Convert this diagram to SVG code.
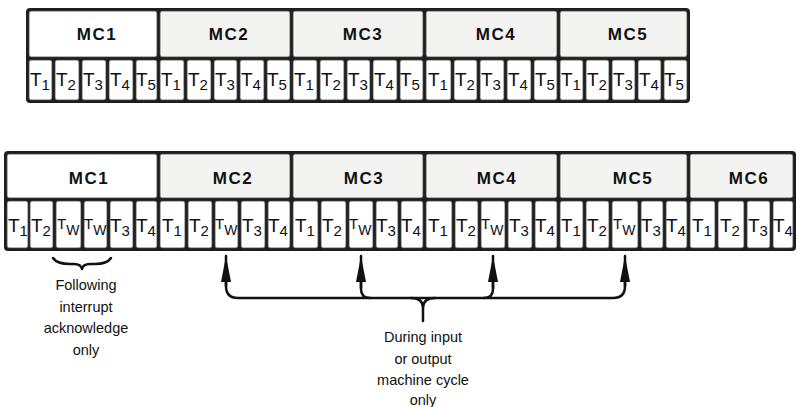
<svg xmlns="http://www.w3.org/2000/svg" width="797" height="407" viewBox="0 0 797 407">
<style>
.frame{fill:#1e1e1e}
.hdr{fill:#f3f3f1;stroke:#444;stroke-width:0.8}
.hw{fill:#ffffff;stroke:#444;stroke-width:0.8}
.cell{fill:#ffffff;stroke:#444;stroke-width:0.8}
.mc{font-family:"Liberation Sans",Arial,sans-serif;font-size:17px;font-weight:bold;letter-spacing:1.5px;fill:#111;text-anchor:middle}
.t{font-family:"Liberation Sans",Arial,sans-serif;font-size:19px;fill:#111}
.s{font-size:15px}
.tw{font-family:"Liberation Sans",Arial,sans-serif;font-size:15px;fill:#111}
.w{font-size:14px}
.lbl{font-family:"Liberation Sans",Arial,sans-serif;font-size:14.5px;fill:#111;text-anchor:middle}
.con{fill:none;stroke:#111;stroke-width:2.5;stroke-linecap:round;stroke-linejoin:round}
</style>
<defs>
<marker id="ah" viewBox="0 0 26 10" refX="26" refY="5" markerWidth="26" markerHeight="10" markerUnits="userSpaceOnUse" orient="auto">
<path d="M0,0 L26,5 L0,10 Z" fill="#111"/>
</marker>
</defs>

<g id="row1">
<rect class="frame" x="26" y="8" width="664" height="95" rx="4"/>
<g id="r1-mc1"><rect class="hw" x="29" y="11" width="128" height="46" rx="2"/><text class="mc" x="97" y="40">MC1</text></g>
<g id="r1-mc2"><rect class="hdr" x="160" y="11" width="130" height="46" rx="2"/><text class="mc" x="229" y="40">MC2</text></g>
<g id="r1-mc3"><rect class="hdr" x="293" y="11" width="130" height="46" rx="2"/><text class="mc" x="363" y="40">MC3</text></g>
<g id="r1-mc4"><rect class="hdr" x="426" y="11" width="131" height="46" rx="2"/><text class="mc" x="496" y="40">MC4</text></g>
<g id="r1-mc5"><rect class="hdr" x="560" y="11" width="127" height="46" rx="2"/><text class="mc" x="628" y="40">MC5</text></g>
<g id="r1-cells">
<rect class="cell" x="29" y="60" width="23" height="40" rx="2"/><text class="t" x="30" y="86">T<tspan class="s" dy="4">1</tspan></text>
<rect class="cell" x="55" y="60" width="24" height="40" rx="2"/><text class="t" x="56" y="86">T<tspan class="s" dy="4">2</tspan></text>
<rect class="cell" x="82" y="60" width="24" height="40" rx="2"/><text class="t" x="83" y="86">T<tspan class="s" dy="4">3</tspan></text>
<rect class="cell" x="109" y="60" width="24" height="40" rx="2"/><text class="t" x="110" y="86">T<tspan class="s" dy="4">4</tspan></text>
<rect class="cell" x="136" y="60" width="21" height="40" rx="2"/><text class="t" x="136" y="86">T<tspan class="s" dy="4">5</tspan></text>

<rect class="cell" x="160" y="60" width="24" height="40" rx="2"/><text class="t" x="161" y="86">T<tspan class="s" dy="4">1</tspan></text>
<rect class="cell" x="187" y="60" width="24" height="40" rx="2"/><text class="t" x="188" y="86">T<tspan class="s" dy="4">2</tspan></text>
<rect class="cell" x="214" y="60" width="23" height="40" rx="2"/><text class="t" x="215" y="86">T<tspan class="s" dy="4">3</tspan></text>
<rect class="cell" x="240" y="60" width="24" height="40" rx="2"/><text class="t" x="241" y="86">T<tspan class="s" dy="4">4</tspan></text>
<rect class="cell" x="267" y="60" width="23" height="40" rx="2"/><text class="t" x="267" y="86">T<tspan class="s" dy="4">5</tspan></text>

<rect class="cell" x="293" y="60" width="24" height="40" rx="2"/><text class="t" x="294" y="86">T<tspan class="s" dy="4">1</tspan></text>
<rect class="cell" x="320" y="60" width="24" height="40" rx="2"/><text class="t" x="321" y="86">T<tspan class="s" dy="4">2</tspan></text>
<rect class="cell" x="347" y="60" width="23" height="40" rx="2"/><text class="t" x="348" y="86">T<tspan class="s" dy="4">3</tspan></text>
<rect class="cell" x="373" y="60" width="24" height="40" rx="2"/><text class="t" x="374" y="86">T<tspan class="s" dy="4">4</tspan></text>
<rect class="cell" x="400" y="60" width="23" height="40" rx="2"/><text class="t" x="400" y="86">T<tspan class="s" dy="4">5</tspan></text>

<rect class="cell" x="426" y="60" width="25" height="40" rx="2"/><text class="t" x="428" y="86">T<tspan class="s" dy="4">1</tspan></text>
<rect class="cell" x="454" y="60" width="23" height="40" rx="2"/><text class="t" x="455" y="86">T<tspan class="s" dy="4">2</tspan></text>
<rect class="cell" x="480" y="60" width="24" height="40" rx="2"/><text class="t" x="481" y="86">T<tspan class="s" dy="4">3</tspan></text>
<rect class="cell" x="507" y="60" width="24" height="40" rx="2"/><text class="t" x="508" y="86">T<tspan class="s" dy="4">4</tspan></text>
<rect class="cell" x="534" y="60" width="23" height="40" rx="2"/><text class="t" x="535" y="86">T<tspan class="s" dy="4">5</tspan></text>

<rect class="cell" x="560" y="60" width="23" height="40" rx="2"/><text class="t" x="561" y="86">T<tspan class="s" dy="4">1</tspan></text>
<rect class="cell" x="586" y="60" width="23" height="40" rx="2"/><text class="t" x="587" y="86">T<tspan class="s" dy="4">2</tspan></text>
<rect class="cell" x="612" y="60" width="23" height="40" rx="2"/><text class="t" x="613" y="86">T<tspan class="s" dy="4">3</tspan></text>
<rect class="cell" x="638" y="60" width="23" height="40" rx="2"/><text class="t" x="639" y="86">T<tspan class="s" dy="4">4</tspan></text>
<rect class="cell" x="664" y="60" width="23" height="40" rx="2"/><text class="t" x="664" y="86">T<tspan class="s" dy="4">5</tspan></text>
</g>
</g>

<g id="row2">
<rect class="frame" x="4" y="151" width="792" height="100" rx="4"/>
<g id="r2-mc1"><rect class="hw" x="7" y="154" width="150" height="44" rx="2"/><text class="mc" x="89" y="184">MC1</text></g>
<g id="r2-mc2"><rect class="hdr" x="160" y="154" width="130" height="44" rx="2"/><text class="mc" x="233" y="184">MC2</text></g>
<g id="r2-mc3"><rect class="hdr" x="293" y="154" width="130" height="44" rx="2"/><text class="mc" x="364" y="184">MC3</text></g>
<g id="r2-mc4"><rect class="hdr" x="426" y="154" width="131" height="44" rx="2"/><text class="mc" x="497" y="184">MC4</text></g>
<g id="r2-mc5"><rect class="hdr" x="560" y="154" width="127" height="44" rx="2"/><text class="mc" x="633" y="184">MC5</text></g>
<g id="r2-mc6"><rect class="hdr" x="690" y="154" width="103" height="44" rx="2"/><text class="mc" x="749" y="184">MC6</text></g>
<g id="r2-cells">
<rect class="cell" x="7" y="201" width="21" height="47" rx="2"/><text class="t" x="8" y="232">T<tspan class="s" dy="4">1</tspan></text>
<rect class="cell" x="30" y="201" width="23" height="47" rx="2"/><text class="t" x="31" y="232">T<tspan class="s" dy="4">2</tspan></text>
<rect class="cell" x="56" y="201" width="25" height="47" rx="2"/><text class="tw" x="57" y="229">T<tspan class="w" dy="6">W</tspan></text>
<rect class="cell" x="84" y="201" width="23" height="47" rx="2"/><text class="tw" x="84" y="229">T<tspan class="w" dy="6">W</tspan></text>
<rect class="cell" x="110" y="201" width="23" height="47" rx="2"/><text class="t" x="110" y="232">T<tspan class="s" dy="4">3</tspan></text>
<rect class="cell" x="136" y="201" width="21" height="47" rx="2"/><text class="t" x="136" y="232">T<tspan class="s" dy="4">4</tspan></text>

<rect class="cell" x="160" y="201" width="25" height="47" rx="2"/><text class="t" x="162" y="232">T<tspan class="s" dy="4">1</tspan></text>
<rect class="cell" x="188" y="201" width="24" height="47" rx="2"/><text class="t" x="189" y="232">T<tspan class="s" dy="4">2</tspan></text>
<rect class="cell" x="215" y="201" width="23" height="47" rx="2"/><text class="tw" x="215" y="229">T<tspan class="w" dy="6">W</tspan></text>
<rect class="cell" x="241" y="201" width="24" height="47" rx="2"/><text class="t" x="242" y="232">T<tspan class="s" dy="4">3</tspan></text>
<rect class="cell" x="268" y="201" width="22" height="47" rx="2"/><text class="t" x="268" y="232">T<tspan class="s" dy="4">4</tspan></text>

<rect class="cell" x="293" y="201" width="25" height="47" rx="2"/><text class="t" x="295" y="232">T<tspan class="s" dy="4">1</tspan></text>
<rect class="cell" x="321" y="201" width="25" height="47" rx="2"/><text class="t" x="322" y="232">T<tspan class="s" dy="4">2</tspan></text>
<rect class="cell" x="349" y="201" width="24" height="47" rx="2"/><text class="tw" x="349" y="229">T<tspan class="w" dy="6">W</tspan></text>
<rect class="cell" x="376" y="201" width="22" height="47" rx="2"/><text class="t" x="376" y="232">T<tspan class="s" dy="4">3</tspan></text>
<rect class="cell" x="401" y="201" width="22" height="47" rx="2"/><text class="t" x="401" y="232">T<tspan class="s" dy="4">4</tspan></text>

<rect class="cell" x="426" y="201" width="26" height="47" rx="2"/><text class="t" x="428" y="232">T<tspan class="s" dy="4">1</tspan></text>
<rect class="cell" x="455" y="201" width="23" height="47" rx="2"/><text class="t" x="456" y="232">T<tspan class="s" dy="4">2</tspan></text>
<rect class="cell" x="481" y="201" width="24" height="47" rx="2"/><text class="tw" x="481" y="229">T<tspan class="w" dy="6">W</tspan></text>
<rect class="cell" x="508" y="201" width="24" height="47" rx="2"/><text class="t" x="509" y="232">T<tspan class="s" dy="4">3</tspan></text>
<rect class="cell" x="535" y="201" width="22" height="47" rx="2"/><text class="t" x="535" y="232">T<tspan class="s" dy="4">4</tspan></text>

<rect class="cell" x="560" y="201" width="23" height="47" rx="2"/><text class="t" x="561" y="232">T<tspan class="s" dy="4">1</tspan></text>
<rect class="cell" x="586" y="201" width="23" height="47" rx="2"/><text class="t" x="587" y="232">T<tspan class="s" dy="4">2</tspan></text>
<rect class="cell" x="612" y="201" width="26" height="47" rx="2"/><text class="tw" x="613" y="229">T<tspan class="w" dy="6">W</tspan></text>
<rect class="cell" x="641" y="201" width="22" height="47" rx="2"/><text class="t" x="641" y="232">T<tspan class="s" dy="4">3</tspan></text>
<rect class="cell" x="666" y="201" width="21" height="47" rx="2"/><text class="t" x="666" y="232">T<tspan class="s" dy="4">4</tspan></text>

<rect class="cell" x="690" y="201" width="25" height="47" rx="2"/><text class="t" x="692" y="232">T<tspan class="s" dy="4">1</tspan></text>
<rect class="cell" x="718" y="201" width="26" height="47" rx="2"/><text class="t" x="720" y="232">T<tspan class="s" dy="4">2</tspan></text>
<rect class="cell" x="747" y="201" width="23" height="47" rx="2"/><text class="t" x="748" y="232">T<tspan class="s" dy="4">3</tspan></text>
<rect class="cell" x="773" y="201" width="20" height="47" rx="2"/><text class="t" x="773" y="232">T<tspan class="s" dy="4">4</tspan></text>
</g>
</g>

<g id="connectors">
<path class="con" d="M226,286 V256" marker-end="url(#ah)"/>
<path class="con" d="M361,288 V256" marker-end="url(#ah)"/>
<path class="con" d="M493,288 V256" marker-end="url(#ah)"/>
<path class="con" d="M625,286 V256" marker-end="url(#ah)"/>
<path class="con" d="M226,280 V286 Q226,298 238,298 H613 Q625,298 625,286 V280"/>
<path class="con" d="M361,280 V289 Q361,298 370,298"/>
<path class="con" d="M493,280 V289 Q493,298 484,298"/>
<path class="con" d="M411,298 Q423,298 423,308 V321 M435,298 Q423,298 423,308"/>
<path class="con" d="M53,258 Q57,264 70,264 H74 Q81,264 82,269 Q83,264 90,264 H95 Q107,264 111,258"/>
</g>

<g id="label-interrupt">
<text class="lbl" x="86" y="290">Following</text>
<text class="lbl" x="86" y="312">interrupt</text>
<text class="lbl" x="86" y="333">acknowledge</text>
<text class="lbl" x="86" y="355">only</text>
</g>
<g id="label-io">
<text class="lbl" x="423" y="342">During input</text>
<text class="lbl" x="423" y="364">or output</text>
<text class="lbl" x="423" y="385">machine cycle</text>
<text class="lbl" x="423" y="405">only</text>
</g>
</svg>
